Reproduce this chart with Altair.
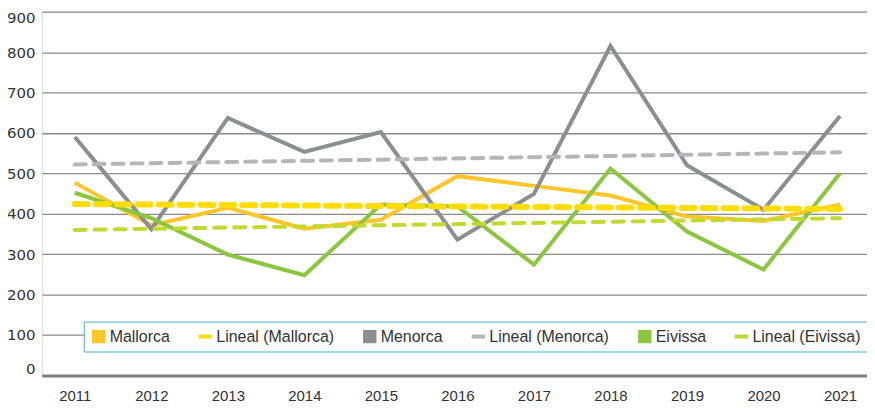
import altair as alt
import pandas as pd

years = [2011, 2012, 2013, 2014, 2015, 2016, 2017, 2018, 2019, 2020, 2021]
mallorca = [477, 371, 415, 363, 385, 493, 469, 445, 393, 382, 423]
menorca = [590, 362, 637, 553, 602, 336, 449, 815, 520, 410, 642]
eivissa = [452, 389, 299, 248, 423, 418, 274, 512, 356, 262, 500]

trend_years = [2011, 2021]
trend_mallorca = [424, 412]
trend_menorca = [522, 552]
trend_eivissa = [360, 389]

series_names = ["Mallorca", "Menorca", "Eivissa"]
trend_names = ["Lineal (Mallorca)", "Lineal (Menorca)", "Lineal (Eivissa)"]
legend_order = ["Mallorca", "Lineal (Mallorca)", "Menorca", "Lineal (Menorca)",
                "Eivissa", "Lineal (Eivissa)"]
colors = ["#FFC629", "#FFDD00", "#8C8E90", "#B5B5BA", "#8CC63E", "#C2D92E"]
bar_path = "M-1,-0.3H1V0.3H-1Z"
shapes = ["square", bar_path, "square", bar_path, "square", bar_path]

rows = []
for name, vals in zip(series_names, [mallorca, menorca, eivissa]):
    for y, v in zip(years, vals):
        rows.append({"year": y, "value": v, "serie": name})
series_df = pd.DataFrame(rows)

trows = []
for name, vals in zip(trend_names, [trend_mallorca, trend_menorca, trend_eivissa]):
    for y, v in zip(trend_years, vals):
        trows.append({"year": y, "value": v, "serie": name})
trend_df = pd.DataFrame(trows)

LABEL_FONT = "Liberation Sans Narrow, Liberation Sans, sans-serif"

color_scale = alt.Scale(domain=legend_order, range=colors)
x_enc = alt.X("year:Q",
              scale=alt.Scale(domain=[2010.57, 2021.352], nice=False, zero=False),
              axis=alt.Axis(values=years, format="d", title=None, grid=False, ticks=False,
                            domain=True, domainColor="#7F7F7F", domainWidth=3,
                            labelFont=LABEL_FONT, labelFontSize=15, labelColor="#333333",
                            labelPadding=13))
y_enc = alt.Y("value:Q",
              scale=alt.Scale(domain=[0, 900], nice=False),
              axis=alt.Axis(values=list(range(0, 1000, 100)), title=None, grid=True,
                            gridColor="#8A8A8A", gridWidth=1.3, ticks=False, domain=False,
                            labelFont="DejaVu Sans", labelFontSize=15, labelColor="#333333",
                            labelPadding=7, labelFlush=True, labelFlushOffset=1))

legend_props = dict(title=None, orient="none", legendX=42, legendY=311,
                    direction="horizontal", columns=6,
                    padding=7, strokeColor="#4BACC6", fillColor="white",
                    labelFont=LABEL_FONT, labelFontSize=16,
                    labelColor="#333333", symbolSize=180,
                    symbolStrokeWidth=0, columnPadding=27,
                    labelOffset=3, labelLimit=300)

legend_layer = alt.Chart(series_df).transform_filter("false").mark_point(
    filled=True, opacity=1).encode(
    x=x_enc, y=y_enc,
    color=alt.Color("serie:N", scale=color_scale, legend=alt.Legend(**legend_props)),
    shape=alt.Shape("serie:N", scale=alt.Scale(domain=legend_order, range=shapes),
                    legend=alt.Legend(**legend_props)),
)

series_layer = alt.Chart(series_df).mark_line(strokeWidth=4, strokeJoin="miter").encode(
    x=x_enc, y=y_enc,
    color=alt.Color("serie:N", scale=color_scale, legend=None),
    detail="serie:N",
)

trend_styles = {
    "Lineal (Mallorca)": (6, [13, 8]),
    "Lineal (Menorca)": (4, [11, 8]),
    "Lineal (Eivissa)": (4, [11, 9]),
}
trend_layers = []
for name in trend_names:
    w, dash = trend_styles[name]
    trend_layers.append(
        alt.Chart(trend_df).transform_filter(alt.datum.serie == name)
        .mark_line(strokeWidth=w, strokeDash=dash, strokeCap="round")
        .encode(x=x_enc, y=y_enc,
                color=alt.Color("serie:N", scale=color_scale, legend=None))
    )

chart = alt.layer(legend_layer, series_layer, *trend_layers).properties(
    width=828, height=365,
    padding={"left": 34, "top": 3, "right": 0, "bottom": 30},
    autosize=alt.AutoSizeParams(type="none"),
).configure_view(stroke=None).configure(background="white")

chart.save("out.html", embed_options={"renderer": "svg", "actions": False})
